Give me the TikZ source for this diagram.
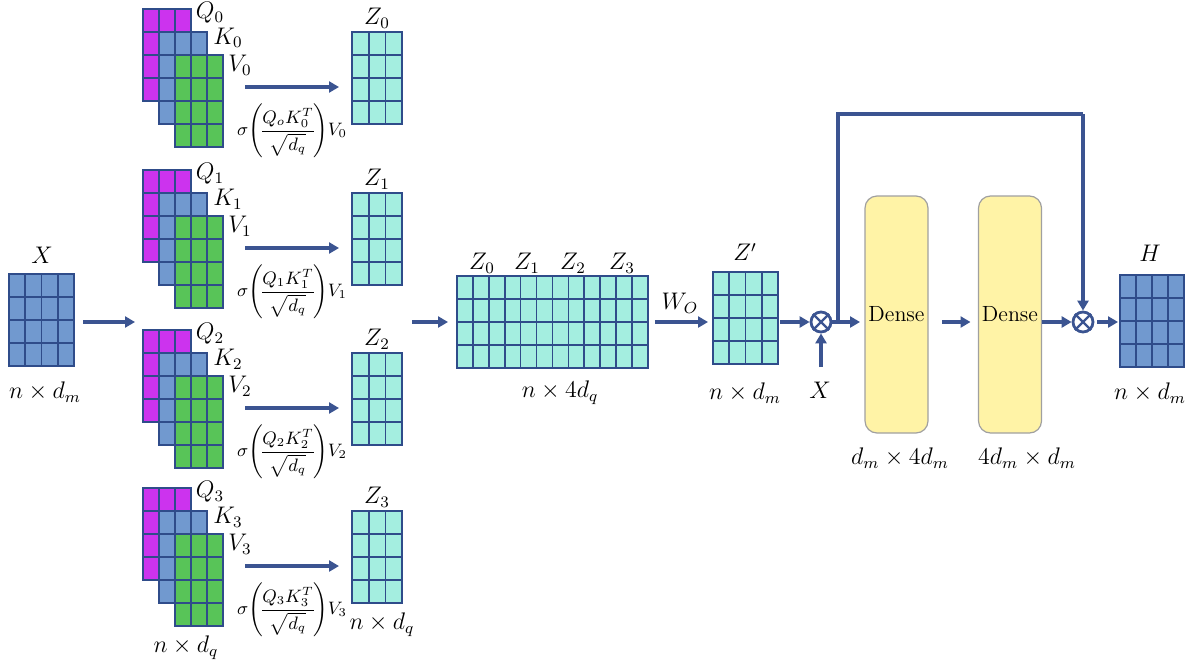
\documentclass[tikz,border=0pt]{standalone}
\usepackage{amsmath}
\usepackage{fontspec}
\usetikzlibrary{arrows.meta}
\definecolor{bord}{HTML}{2F4C8A}
\definecolor{arrc}{HTML}{3B5491}
\definecolor{magq}{HTML}{CC33EE}
\definecolor{bluek}{HTML}{7199CF}
\definecolor{greenv}{HTML}{58C458}
\definecolor{cyanz}{HTML}{A4EEE0}
\definecolor{densef}{HTML}{FFF3A6}
\definecolor{densed}{HTML}{A0A0A0}
\tikzset{
  matbox/.style={draw=bord, line width=1pt, inner sep=0pt, outer sep=0pt},
  gridline/.style={draw=bord, line width=0.8pt},
  arw/.style={draw=arrc, line width=1.6pt, -{Triangle[length=5pt,width=5.5pt]}},
  arwl/.style={draw=arrc, line width=1.6pt},
  lbl/.style={font=\fontsize{12}{14}\selectfont, inner sep=1pt},
  frm/.style={font=\fontsize{9}{11}\selectfont, inner sep=0pt},
  dense/.style={draw=densed, line width=0.6pt, fill=densef, rounded corners=6pt,
     inner sep=0pt, outer sep=0pt,
     minimum width=31.5pt, minimum height=118.5pt, font=\fontsize{11}{13}\selectfont},
  otimes/.style={circle, draw=arrc, line width=1.4pt, minimum size=10pt, inner sep=0pt}
}
\newcommand\mtx[7]{%
  \node[matbox, fill=#7, minimum width={#4*#6*0.5pt}, minimum height={#5*23*0.5pt}, anchor=north west] (#1) at (#2,#3) {};
  \pgfmathtruncatemacro\mymc{#4-1}\pgfmathtruncatemacro\mymr{#5-1}
  \foreach \i in {1,...,\mymc} \draw[gridline] ({#2+\i*#6},#3) -- ({#2+\i*#6},{#3+#5*23});
  \foreach \j in {1,...,\mymr} \draw[gridline] (#2,{#3+\j*23}) -- ({#2+#4*#6},{#3+\j*23});
  \node[matbox, fill=none, minimum width={#4*#6*0.5pt}, minimum height={#5*23*0.5pt}, anchor=north west] (#1b) at (#2,#3) {};
}
\newcommand\headblock[3]{% index, offset, Q subscript
  \mtx{q#1}{143}{9+#2}{3}{4}{16}{magq}
  \mtx{k#1}{159}{32+#2}{3}{4}{16}{bluek}
  \mtx{v#1}{175}{55+#2}{3}{4}{16}{greenv}
  \node[lbl] (ql#1) at (210,13+#2) {$Q_{#1}$};
  \node[lbl] (kl#1) at (228,38+#2) {$K_{#1}$};
  \node[lbl] (vl#1) at (240,65+#2) {$V_{#1}$};
  \mtx{z#1}{352}{32+#2}{3}{4}{16.7}{cyanz}
  \node[lbl] (zl#1) at (377,18+#2) {$Z_{#1}$};
  \coordinate (as#1) at (245,87+#2);
  \coordinate (ae#1) at (339,87+#2);
  \draw[arw] (as#1) -- (ae#1);
  \node[frm] (f#1) at (292,131+#2) {$\sigma\!\left(\!\dfrac{Q_{#3}K_{#1}^T}{\sqrt{d_q}}\!\right)\!V_{#1}$};
}
\begin{document}
\begin{tikzpicture}[x=0.5pt,y=-0.5pt]
\useasboundingbox (0,0) rectangle (1204,669);
% input X
\mtx{X}{9}{274}{4}{4}{16.25}{bluek}
\node[lbl] (Xl) at (42,255) {$X$};
\node[lbl] (Xd) at (45,392) {$n\times d_m$};
\coordinate (xa) at (135,322);
\draw[arw, shorten <=4.5pt] (X.east |- xa) -- (xa);
% heads
\headblock{0}{0}{o}
\headblock{1}{161}{1}
\headblock{2}{321}{2}
\headblock{3}{479}{3}
\node[lbl] (vd) at (186,648) {$n\times d_q$};
\node[lbl] (zd) at (382,625) {$n\times d_q$};
% concat
\mtx{Zc}{457}{276}{12}{4}{15.9}{cyanz}
\node[lbl] (zc0) at (482,263) {$Z_0$};
\node[lbl] (zc1) at (527,263) {$Z_1$};
\node[lbl] (zc2) at (573,263) {$Z_2$};
\node[lbl] (zc3) at (622,263) {$Z_3$};
\node[lbl] (zcd) at (560,393) {$n\times 4d_q$};
\coordinate (ca) at (412,322);
\draw[arw, shorten >=4.5pt] (ca) -- (Zc.west |- ca);
% Z'
\mtx{Zp}{713}{272}{4}{4}{16.25}{cyanz}
\node[lbl] (zpl) at (745,252) {$Z'$};
\node[lbl] (zpd) at (745,393) {$n\times d_m$};
\draw[arw, shorten <=3.5pt, shorten >=2.5pt] (Zc.east |- ca) -- (Zp.west |- ca);
\node[lbl] (wo) at (680,303) {$W_O$};
% add & norm
\node[otimes] (o1) at (821,322) {};
\draw[arrc, line width=1.2pt] (o1.45) -- (o1.225) (o1.135) -- (o1.315);
\draw[arw, shorten <=1pt] (Zp.east |- o1) -- (o1.west);
\coordinate (xb) at (821,367);
\draw[arw] (xb) -- (o1.south);
\node[lbl] (xbl) at (820,390) {$X$};
% dense
\node[dense] (d1) at (896.5,314.5) {Dense};
\node[dense] (d2) at (1010,314.5) {Dense};
\node[lbl] (d1d) at (900,458) {$d_m\times 4d_m$};
\node[lbl] (d2d) at (1027,458) {$4d_m\times d_m$};
\coordinate (br) at (838,322);
\draw[arw, shorten >=2.5pt] (o1.east) -- (d1.west |- o1);
\draw[arw, shorten <=7pt, shorten >=4pt] (d1.east |- o1) -- (d2.west |- o1);
\node[otimes] (o2) at (1083,322) {};
\draw[arrc, line width=1.2pt] (o2.45) -- (o2.225) (o2.135) -- (o2.315);
\draw[arw] (d2.east |- o2) -- (o2.west);
\coordinate (tp) at (1083,114);
\draw[arwl] (br) |- (tp);
\draw[arw] (tp) -- (o2.north);
% H
\mtx{H}{1120}{275}{4}{4}{16}{bluek}
\node[lbl] (hl) at (1150,253) {$H$};
\node[lbl] (hd) at (1150,393) {$n\times d_m$};
\draw[arw, shorten <=1.5pt, shorten >=1pt] (o2.east) -- (H.west |- o2);
\end{tikzpicture}
\end{document}
